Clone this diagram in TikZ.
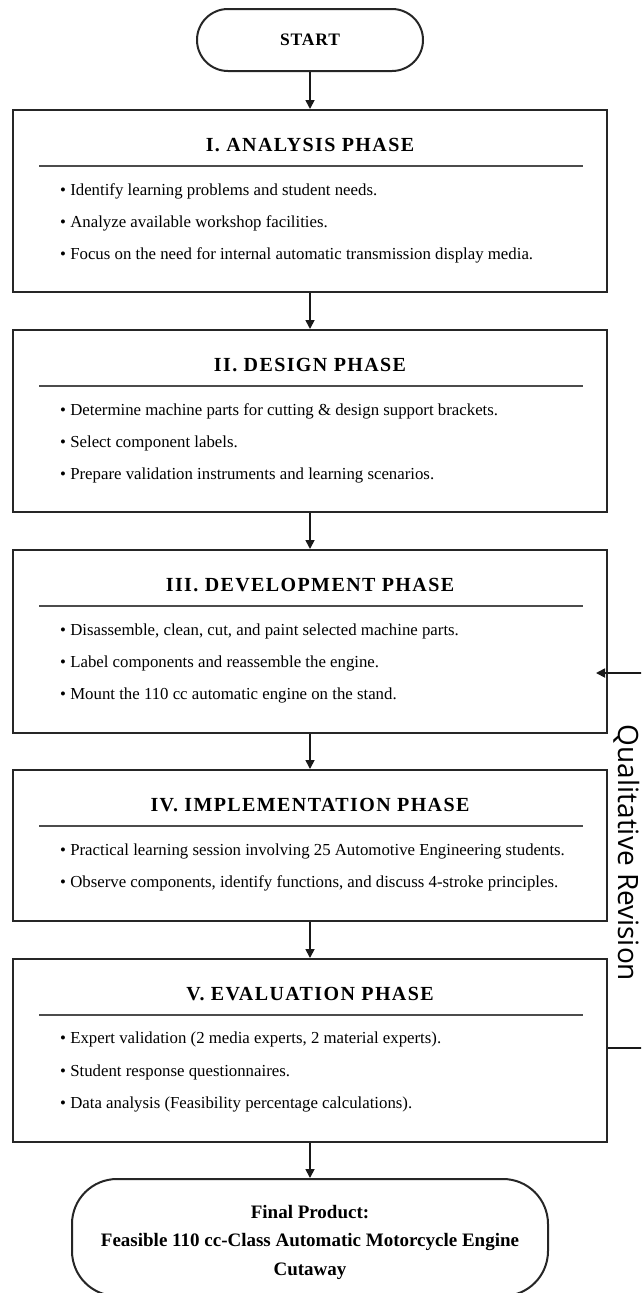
\documentclass[tikz,border=0pt]{standalone}
\usepackage{fontspec}
\setmainfont{Liberation Serif}
\newfontfamily\qfont{Open Sans}
\usetikzlibrary{arrows.meta}
\tikzset{
  boxframe/.style={draw=black!85, line width=2pt, minimum width=594pt, inner sep=0pt},
  termbox/.style={draw=black!85, line width=2pt, inner sep=0pt, align=center},
  ttl/.style={font=\fontsize{20}{23}\selectfont\bfseries\addfontfeatures{LetterSpace=7}, anchor=base, inner sep=0pt},
  blt/.style={font=\fontsize{16.8}{20}\selectfont, anchor=base west, inner sep=0pt},
  rulel/.style={draw=black!70, line width=1.4pt},
  flow/.style={draw=black!90, line width=1.7pt, -{Triangle[length=9pt,width=9pt]}},
  plainline/.style={draw=black!90, line width=1.7pt},
  qlabel/.style={rotate=-90, anchor=base, inner sep=0pt, font=\qfont\fontsize{28}{30}\selectfont},
}
\newcommand\PhaseBox[4]{% name, top, height, title
  \node[boxframe, minimum height=#3pt, anchor=north] (#1) at (310,#2) {};
  \node[ttl] (#1t) at (310,#2+42) {#4};
  \draw[rulel] (39,#2+57) -- (583,#2+57);
}
\newcommand\Bul[3]{% name, baseline y, text
  \node[blt] (#1) at (60,#2) {\textbullet\ #3};
}
\begin{document}
\begin{tikzpicture}[x=1pt,y=-1pt]
\clip (0,0) rectangle (641,1293);
\fill[white] (0,0) rectangle (641,1293);

% START
\node[termbox, rounded corners=31pt, minimum width=226pt, minimum height=62pt,
      font=\fontsize{17.5}{20}\selectfont\bfseries\addfontfeatures{LetterSpace=5}] (start) at (310,40) {START};

% I
\PhaseBox{p1}{109}{182}{I. ANALYSIS PHASE}
\Bul{p1a}{195}{Identify learning problems and student needs.}
\Bul{p1b}{227}{Analyze available workshop facilities.}
\Bul{p1c}{259}{Focus on the need for internal automatic transmission display media.}

% II
\PhaseBox{p2}{329}{182}{II. DESIGN PHASE}
\Bul{p2a}{415}{Determine machine parts for cutting \& design support brackets.}
\Bul{p2b}{447}{Select component labels.}
\Bul{p2c}{479}{Prepare validation instruments and learning scenarios.}

% III
\PhaseBox{p3}{549}{183}{III. DEVELOPMENT PHASE}
\Bul{p3a}{635}{Disassemble, clean, cut, and paint selected machine parts.}
\Bul{p3b}{667}{Label components and reassemble the engine.}
\Bul{p3c}{699}{Mount the 110 cc automatic engine on the stand.}

% IV
\PhaseBox{p4}{769}{151}{IV. IMPLEMENTATION PHASE}
\Bul{p4a}{855}{Practical learning session involving 25 Automotive Engineering students.}
\Bul{p4b}{887}{Observe components, identify functions, and discuss 4-stroke principles.}

% V
\PhaseBox{p5}{958}{183}{V. EVALUATION PHASE}
\Bul{p5a}{1043}{Expert validation (2 media experts, 2 material experts).}
\Bul{p5b}{1076}{Student response questionnaires.}
\Bul{p5c}{1108}{Data analysis (Feasibility percentage calculations).}

% Final
\node[termbox, rounded corners=45pt, minimum width=476pt, minimum height=117pt] (final) at (310,1237.5) {};
\node[align=center, inner sep=0pt, font=\fontsize{19}{28.5}\selectfont\bfseries] (finaltext) at (310,1242)
      {Final Product:\\Feasible 110 cc-Class Automatic Motorcycle Engine\\Cutaway};

% flow arrows
\draw[flow] (start.south) -- (p1.north);
\draw[flow] (p1.south) -- (p2.north);
\draw[flow] (p2.south) -- (p3.north);
\draw[flow] (p3.south) -- (p4.north);
\draw[flow] (p4.south) -- (p5.north);
\draw[flow] (p5.south) -- (final.north);

% feedback
\coordinate (fbB) at (648,1048);
\coordinate (fbT) at (648,673);
\coordinate (fbTip) at (596,673);
\draw[plainline] (p5.east |- fbB) -- (fbB) -- (fbT);
\draw[flow] (fbT) -- (fbTip);
\node[qlabel] (qr) at (618,853) {Qualitative Revision};
\end{tikzpicture}
\end{document}
